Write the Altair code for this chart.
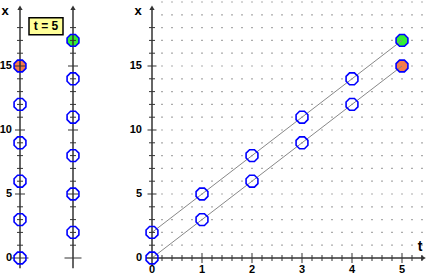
import altair as alt
import pandas as pd

# ---- data ----
t_values = [0, 1, 2, 3, 4, 5]
x_lower = [0, 3, 6, 9, 12, 15]      # x = 3t
x_upper = [2, 5, 8, 11, 14, 17]     # x = 3t + 2
t_now = 5
t_tick_labels = [0, 1, 2, 3, 4, 5]
x_tick_labels = [0, 5, 10, 15]

# ---- styling ----
BLUE = "#0000ff"
ORANGE = "#f47c4c"
GREEN = "#33ee33"
AXIS = "#333333"
LINE = "#888888"
DOT = "#777777"
FONT = "Liberation Sans"
OCT = "M-0.41,-1L0.41,-1L1,-0.41L1,0.41L0.41,1L-0.41,1L-1,0.41L-1,-0.41Z"
BOX = "M-1,-0.5L1,-0.5L1,0.5L-1,0.5Z"

ys = alt.Scale(domain=[0, 15], range=[258, 66], nice=False, zero=False)
ts = alt.Scale(domain=[0, 5], range=[152, 402], nice=False, zero=False)
cs = alt.Scale(type="point", domain=["a", "b"], range=[20, 73], padding=0)

Y = lambda f: alt.Y(f, scale=ys, axis=None)
T = lambda f: alt.X(f, scale=ts, axis=None)
C = lambda f: alt.X(f, scale=cs, axis=None)

# ---- tables ----
pts = pd.DataFrame({
    "t": t_values * 2,
    "x": x_lower + x_upper,
    "series": ["lower"] * 6 + ["upper"] * 6,
    "col": ["a"] * 6 + ["b"] * 6,
})
now = pts[pts["t"] == t_now]

minor_t = [round(0.2 * i, 1) for i in range(1, 28)]
minor_t_only = [v for v in minor_t if abs(v - round(v)) > 1e-9]
major_t = [v for v in t_tick_labels if v > 0]
x_minor = [v for v in range(1, 19) if v % 5 != 0]
x_major = [v for v in x_tick_labels if v > 0]
grid = pd.DataFrame([(t, x) for t in minor_t for x in range(1, 21)], columns=["t", "x"])

cols = ["a", "b"]
left_minor = pd.DataFrame([(c, v) for c in cols for v in x_minor], columns=["col", "v"])
left_major = pd.DataFrame([(c, v) for c in cols for v in x_major], columns=["col", "v"])
left_zero = pd.DataFrame({"col": cols, "v": [0, 0]})

# ---- layers ----
dots = alt.Chart(grid).mark_square(size=1.5, color=DOT, opacity=1).encode(x=T("t:Q"), y=Y("x:Q"))

fill_right = alt.Chart(now).mark_point(shape=OCT, size=140, filled=True, opacity=1).encode(
    x=T("t:Q"), y=Y("x:Q"),
    color=alt.Color("series:N", scale=alt.Scale(domain=["lower", "upper"], range=[ORANGE, GREEN]), legend=None))
fill_left = alt.Chart(now).mark_point(shape=OCT, size=140, filled=True, opacity=1).encode(
    x=C("col:N"), y=Y("x:Q"),
    color=alt.Color("series:N", scale=alt.Scale(domain=["lower", "upper"], range=[ORANGE, GREEN]), legend=None))

lines = alt.Chart(pts).mark_line(color=LINE, strokeWidth=1).encode(x=T("t:Q"), y=Y("x:Q"), detail="series:N")

# right axes
r_yaxis = alt.Chart(pd.DataFrame({"t": [0], "y1": [-0.6], "y2": [19.5]})).mark_rule(color=AXIS, strokeWidth=1.5).encode(
    x=T("t:Q"), y=Y("y1:Q"), y2="y2:Q")
r_xaxis = alt.Chart(pd.DataFrame({"y": [0], "t1": [-0.12], "t2": [5.42]})).mark_rule(color=AXIS, strokeWidth=1.5).encode(
    y=Y("y:Q"), x=T("t1:Q"), x2="t2:Q")
r_ytick_minor = alt.Chart(pd.DataFrame({"v": x_minor, "t": 0})).mark_tick(
    orient="horizontal", size=6, thickness=1, color=AXIS, opacity=1).encode(x=T("t:Q"), y=Y("v:Q"))
r_ytick_major = alt.Chart(pd.DataFrame({"v": x_major, "t": 0})).mark_tick(
    orient="horizontal", size=9, thickness=1, color=AXIS, opacity=1).encode(x=T("t:Q"), y=Y("v:Q"))
r_ttick_minor = alt.Chart(pd.DataFrame({"t": minor_t_only, "y": 0})).mark_tick(
    orient="vertical", size=6, thickness=1, color=AXIS, opacity=1).encode(x=T("t:Q"), y=Y("y:Q"))
r_ttick_major = alt.Chart(pd.DataFrame({"t": major_t, "y": 0})).mark_tick(
    orient="vertical", size=10, thickness=1, color=AXIS, opacity=1).encode(x=T("t:Q"), y=Y("y:Q"))
r_arrow_up = alt.Chart(pd.DataFrame({"t": [0], "y": [19.55]})).mark_point(
    shape="triangle-up", filled=True, size=28, color=AXIS, opacity=1).encode(x=T("t:Q"), y=Y("y:Q"))
r_arrow_right = alt.Chart(pd.DataFrame({"t": [5.43], "y": [0]})).mark_point(
    shape="triangle-right", filled=True, size=28, color=AXIS, opacity=1).encode(x=T("t:Q"), y=Y("y:Q"))

# left axes
l_axes = alt.Chart(pd.DataFrame({"col": cols, "y1": [-0.8, -0.8], "y2": [19.5, 19.5]})).mark_rule(
    color=AXIS, strokeWidth=1.5).encode(x=C("col:N"), y=Y("y1:Q"), y2="y2:Q")
l_minor = alt.Chart(left_minor).mark_tick(orient="horizontal", size=6, thickness=1, color=AXIS, opacity=1).encode(
    x=C("col:N"), y=Y("v:Q"))
l_major = alt.Chart(left_major).mark_tick(orient="horizontal", size=10, thickness=1, color=AXIS, opacity=1).encode(
    x=C("col:N"), y=Y("v:Q"))
l_zero = alt.Chart(left_zero).mark_tick(orient="horizontal", size=17, thickness=1, color=AXIS, opacity=1).encode(
    x=C("col:N"), y=Y("v:Q"))
l_arrows = alt.Chart(pd.DataFrame({"col": cols, "y": [19.55, 19.55]})).mark_point(
    shape="triangle-up", filled=True, size=28, color=AXIS, opacity=1).encode(x=C("col:N"), y=Y("y:Q"))

# markers (outline)
stroke_right = alt.Chart(pts).mark_point(shape=OCT, size=140, filled=False, color=BLUE, strokeWidth=1.6, opacity=1).encode(
    x=T("t:Q"), y=Y("x:Q"))
stroke_left = alt.Chart(pts).mark_point(shape=OCT, size=140, filled=False, color=BLUE, strokeWidth=1.6, opacity=1).encode(
    x=C("col:N"), y=Y("x:Q"))

# labels
txt = dict(font=FONT, fontWeight="bold", fontSize=11, color="black")
l_ylab = alt.Chart(pd.DataFrame({"v": x_tick_labels, "col": "a"})).mark_text(
    align="right", baseline="middle", dx=-8, **txt).encode(x=C("col:N"), y=Y("v:Q"), text="v:Q")
r_ylab = alt.Chart(pd.DataFrame({"v": x_tick_labels, "t": 0})).mark_text(
    align="right", baseline="middle", dx=-10, **txt).encode(x=T("t:Q"), y=Y("v:Q"), text="v:Q")
r_tlab = alt.Chart(pd.DataFrame({"t": t_tick_labels, "y": 0})).mark_text(
    align="center", baseline="middle", dy=12, **txt).encode(x=T("t:Q"), y=Y("y:Q"), text="t:Q")
l_title = alt.Chart(pd.DataFrame({"col": ["a"], "y": [19.3], "s": ["x"]})).mark_text(
    align="center", baseline="middle", dx=-15, font=FONT, fontWeight="bold", fontSize=13).encode(
    x=C("col:N"), y=Y("y:Q"), text="s:N")
r_title = alt.Chart(pd.DataFrame({"t": [0], "y": [19.3], "s": ["x"]})).mark_text(
    align="center", baseline="middle", dx=-14, font=FONT, fontWeight="bold", fontSize=13).encode(
    x=T("t:Q"), y=Y("y:Q"), text="s:N")
t_title = alt.Chart(pd.DataFrame({"t": [5.36], "y": [0], "s": ["t"]})).mark_text(
    align="center", baseline="middle", dy=-11, font=FONT, fontWeight="bold", fontSize=14).encode(
    x=T("t:Q"), y=Y("y:Q"), text="s:N")

box_df = pd.DataFrame({"col": ["a"], "y": [18.1], "s": [f"t = {t_now}"]})
box = alt.Chart(box_df).mark_point(shape=BOX, size=1156, filled=True, fill="#ffff99", stroke="black",
                                   strokeWidth=1.5, opacity=1, xOffset=26).encode(x=C("col:N"), y=Y("y:Q"))
box_text = alt.Chart(box_df).mark_text(align="center", baseline="middle", xOffset=26, font=FONT,
                                       fontWeight="bold", fontSize=12, color="black").encode(
    x=C("col:N"), y=Y("y:Q"), text="s:N")

chart = alt.layer(
    dots, fill_right, fill_left, lines,
    r_yaxis, r_xaxis, r_ytick_minor, r_ytick_major, r_ttick_minor, r_ttick_major, r_arrow_up, r_arrow_right,
    l_axes, l_minor, l_major, l_zero, l_arrows,
    stroke_right, stroke_left,
    l_ylab, r_ylab, r_tlab, l_title, r_title, t_title, box, box_text,
).resolve_scale(x="independent", color="independent").properties(
    width=430, height=277, padding=0, autosize=alt.AutoSizeParams(type="none"),
    background="white",
).configure_view(strokeWidth=0)

chart.save("out.html", embed_options={"renderer": "svg", "actions": False})
